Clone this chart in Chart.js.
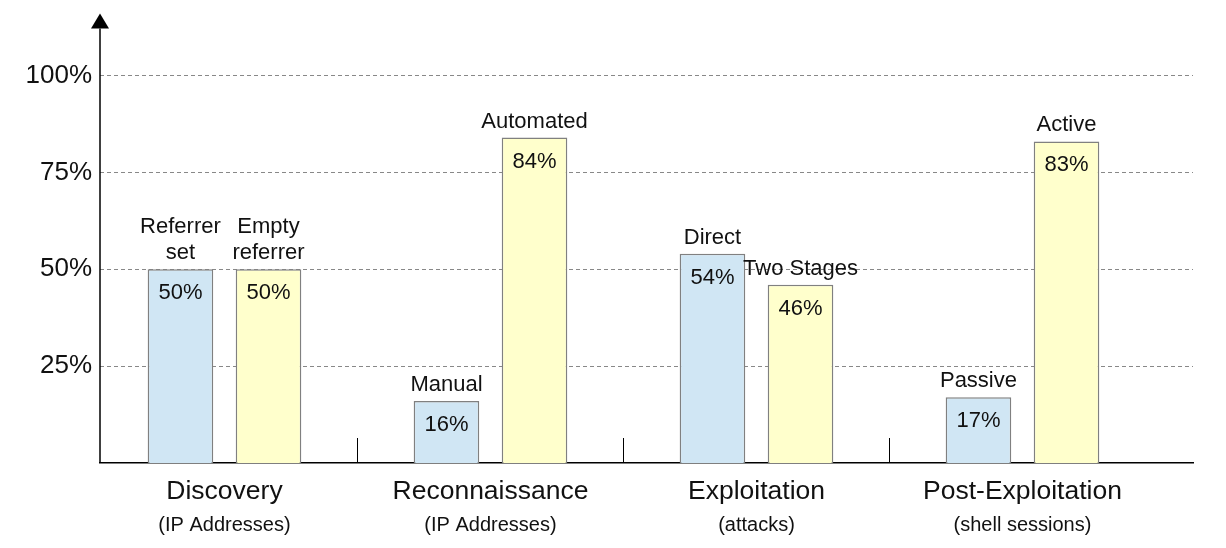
<!DOCTYPE html>
<html>
<head>
<meta charset="utf-8">
<script src="https://cdn.jsdelivr.net/npm/chart.js@4.4.1/dist/chart.umd.min.js"></script>
<style>
  html, body { margin: 0; padding: 0; background: #fff; }
  #wrap { width: 1226px; height: 548px; }
</style>
</head>
<body>
<div id="wrap"><canvas id="c" width="1226" height="548"></canvas></div>
<script>
const categories = ['Discovery', 'Reconnaissance', 'Exploitation', 'Post-Exploitation'];
const subtitles = ['(IP Addresses)', '(IP Addresses)', '(attacks)', '(shell sessions)'];
const firstLabels = [['Referrer', 'set'], ['Manual'], ['Direct'], ['Passive']];
const secondLabels = [['Empty', 'referrer'], ['Automated'], ['Two Stages'], ['Active']];
const firstValues = [50, 16, 54, 17];
const secondValues = [50, 84, 46, 83];
const yTicks = [25, 50, 75, 100];

const FONT = '"Liberation Sans", Arial, sans-serif';

const annot = {
  id: 'annot',
  afterDatasetsDraw(chart) {
    const ctx = chart.ctx;
    const { left, bottom, top } = chart.chartArea;
    const xs = chart.scales.x;
    ctx.save();
    // group dividers
    ctx.strokeStyle = '#000';
    ctx.lineWidth = 1;
    for (let i = 0; i < categories.length - 1; i++) {
      const px = Math.round(xs.getPixelForValue(i + 0.5)) + 0.5;
      ctx.beginPath(); ctx.moveTo(px, bottom - 25); ctx.lineTo(px, bottom); ctx.stroke();
    }
    // y axis with arrow
    ctx.lineWidth = 1.5;
    ctx.beginPath(); ctx.moveTo(left, bottom); ctx.lineTo(left, top + 5); ctx.stroke();
    ctx.fillStyle = '#000';
    ctx.beginPath();
    ctx.moveTo(left, top - 10); ctx.lineTo(left - 9, top + 5); ctx.lineTo(left + 9, top + 5);
    ctx.closePath(); ctx.fill();

    // bar labels
    ctx.fillStyle = '#111';
    ctx.textAlign = 'center';
    ctx.textBaseline = 'middle';
    const labelSets = [firstLabels, secondLabels];
    const valueSets = [firstValues, secondValues];
    chart.data.datasets.forEach((ds, di) => {
      const meta = chart.getDatasetMeta(di);
      meta.data.forEach((bar, i) => {
        const lines = labelSets[di][i];
        ctx.font = '22px ' + FONT;
        const n = lines.length;
        lines.forEach((t, li) => {
          ctx.fillText(t, bar.x, bar.y - 16 - (n - 1 - li) * 26);
        });
        ctx.fillText(valueSets[di][i] + '%', bar.x, bar.y + 24);
      });
    });

    // category labels
    categories.forEach((c, i) => {
      const px = xs.getPixelForValue(i);
      ctx.font = '26.5px ' + FONT;
      ctx.fillText(c, px, bottom + 29);
      ctx.font = '20px ' + FONT;
      ctx.fillText(subtitles[i], px, bottom + 62);
    });
    ctx.restore();
  }
};

new Chart(document.getElementById('c'), {
  type: 'bar',
  data: {
    datasets: [
      {
        data: firstValues.map((v, i) => ({ x: i, y: v })),
        backgroundColor: '#d0e6f4',
        borderColor: '#808080',
        borderWidth: 1.5,
        categoryPercentage: 0.662,
        barPercentage: 0.745
      },
      {
        data: secondValues.map((v, i) => ({ x: i, y: v })),
        backgroundColor: '#ffffcc',
        borderColor: '#808080',
        borderWidth: 1.5,
        categoryPercentage: 0.662,
        barPercentage: 0.745
      }
    ]
  },
  options: {
    responsive: false,
    animation: false,
    devicePixelRatio: 1,
    layout: { padding: { top: 20, right: 33, left: 0, bottom: 0 } },
    plugins: { legend: { display: false }, tooltip: { enabled: false } },
    scales: {
      x: {
        type: 'linear',
        offset: false,
        min: -0.468,
        max: 3.641,
        afterBuildTicks: (s) => { s.ticks = categories.map((c, i) => ({ value: i })); },
        afterFit: (s) => { s.height = 85; },
        ticks: { display: false },
        grid: { display: false, offset: false },
        border: { display: true, color: '#000', width: 1.5 }
      },
      y: {
        min: 0,
        max: 113.4,
        afterBuildTicks: (s) => { s.ticks = yTicks.map(v => ({ value: v })); },
        afterFit: (s) => { s.width = 100; },
        ticks: {
          padding: 8,
          color: '#111',
          font: { family: FONT, size: 26 },
          callback: (v) => v + '%'
        },
        grid: { color: '#888', lineWidth: 1, drawTicks: false },
        border: { display: false, dash: [4, 3] }
      }
    }
  },
  plugins: [annot]
});
</script>
</body>
</html>
